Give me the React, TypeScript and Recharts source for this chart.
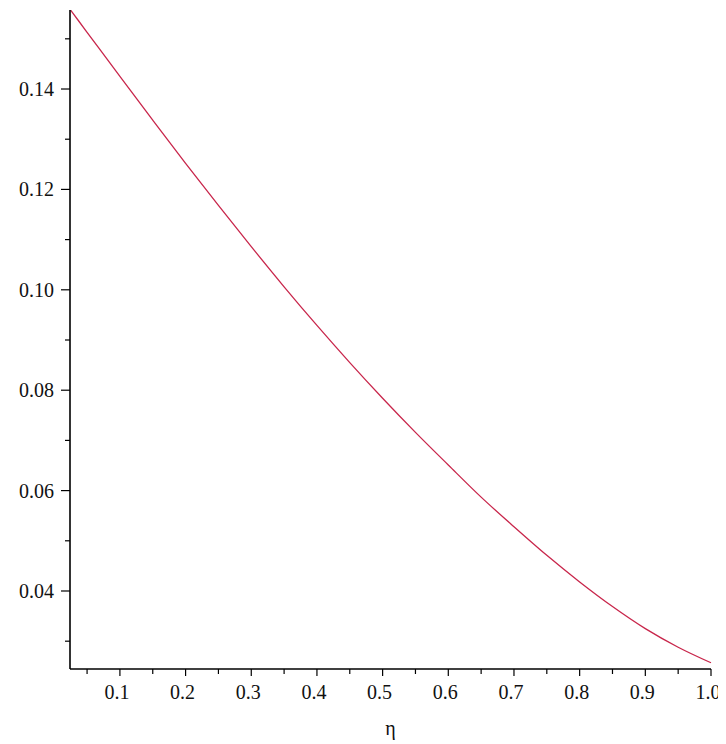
import { LineChart, Line, XAxis, YAxis } from "recharts";

const eta = [
  0.025, 0.05, 0.1, 0.15, 0.2, 0.25, 0.3, 0.35, 0.4, 0.45, 0.5, 0.55, 0.6,
  0.65, 0.7, 0.75, 0.8, 0.85, 0.9, 0.95, 1.0,
];
const values = [
  0.1557, 0.1513, 0.1425, 0.1338, 0.1252, 0.1168, 0.1086, 0.1006, 0.0929,
  0.0855, 0.0784, 0.0716, 0.0651, 0.0587, 0.0528, 0.0471, 0.0418, 0.0369,
  0.0325, 0.0288, 0.0257,
];

const xMajor = [0.1, 0.2, 0.3, 0.4, 0.5, 0.6, 0.7, 0.8, 0.9, 1.0];
const xMinor = [0.05, 0.15, 0.25, 0.35, 0.45, 0.55, 0.65, 0.75, 0.85, 0.95];
const yMajor = [0.04, 0.06, 0.08, 0.1, 0.12, 0.14];
const yMinor = [0.03, 0.05, 0.07, 0.09, 0.11, 0.13, 0.15];

const data = eta.map((x, i) => ({ eta: x, v: values[i] }));

const FONT = "'Liberation Serif', 'Times New Roman', serif";

const isMajor = (list: number[], v: number) =>
  list.some((m) => Math.abs(m - v) < 1e-9);

function YTick(props: any) {
  const { x, y, payload } = props;
  const major = isMajor(yMajor, payload.value);
  return (
    <g>
      <line x1={x - (major ? 9 : 5)} x2={x} y1={y} y2={y} stroke="#000" strokeWidth={1.2} />
      {major && (
        <text
          x={x - 16}
          y={y}
          dy="0.35em"
          textAnchor="end"
          fontFamily={FONT}
          fontSize={20}
          fill="#111"
        >
          {payload.value.toFixed(2)}
        </text>
      )}
    </g>
  );
}

function XTick(props: any) {
  const { x, y, payload } = props;
  const major = isMajor(xMajor, payload.value);
  return (
    <g>
      <line x1={x} x2={x} y1={y} y2={y + (major ? 7 : 5)} stroke="#000" strokeWidth={1.2} />
      {major && (
        <text
          x={x - 3}
          y={y + 23}
          dy="0.35em"
          textAnchor="middle"
          fontFamily={FONT}
          fontSize={20}
          fill="#111"
        >
          {payload.value.toFixed(1)}
        </text>
      )}
    </g>
  );
}

export default function App() {
  return (
    <div style={{ width: 718, height: 736, background: "#fff" }}>
      <LineChart
        width={718}
        height={736}
        data={data}
        margin={{ top: 2, right: 15, left: 0, bottom: 0 }}
      >
        <XAxis
          dataKey="eta"
          type="number"
          domain={[0.024, 1.0]}
          ticks={[...xMinor, ...xMajor].sort((a, b) => a - b)}
          interval={0}
          height={75}
          tickSize={0}
          tickMargin={0}
          tickLine={false}
          axisLine={{ stroke: "#000", strokeWidth: 1.6 }}
          tick={<XTick />}
          label={{
            value: "η",
            position: "insideBottom",
            offset: 9,
            fontFamily: FONT,
            fontSize: 20,
            fill: "#111",
          }}
        />
        <YAxis
          type="number"
          domain={[0.02446, 0.15574]}
          ticks={[...yMinor, ...yMajor].sort((a, b) => a - b)}
          interval={0}
          width={62}
          tickSize={0}
          tickMargin={0}
          tickLine={false}
          axisLine={{ stroke: "#000", strokeWidth: 1.6 }}
          tick={<YTick />}
          allowDataOverflow
        />
        <Line
          dataKey="v"
          type="monotone"
          stroke="#c8264b"
          strokeWidth={1.3}
          dot={false}
          isAnimationActive={false}
        />
      </LineChart>
    </div>
  );
}
